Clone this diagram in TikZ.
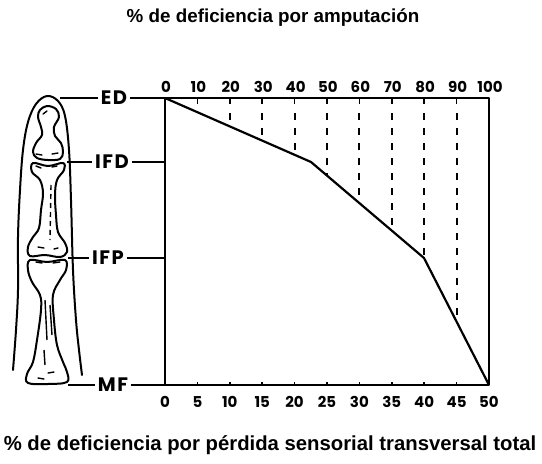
\documentclass[tikz,border=0pt]{standalone}
\usepackage{fontspec}
\setmainfont{Liberation Sans}
\newfontfamily\tickfont{Poppins}
\newfontfamily\lvlfont{Poppins}[LetterSpace=8]
\begin{document}
\begin{tikzpicture}[x=1pt,y=-1pt,
  ink/.style={line width=2pt,line join=round,line cap=round},
  thin/.style={line width=1.3pt},
  ticklbl/.style={font=\tickfont\bfseries\fontsize{15}{16}\selectfont,inner sep=0pt},
  lvllbl/.style={font=\lvlfont\bfseries\fontsize{19.5}{20}\selectfont,inner sep=2.5pt},
  ttl/.style={font=\bfseries\fontsize{18.8}{20}\selectfont,inner sep=0pt},
  vdash/.style={line width=2pt,dash pattern=on 6.5pt off 8.5pt}]
\useasboundingbox (0,0) rectangle (542,464);
% titles
\node[ttl] (t1) at (273,18) {\% de deficiencia por amputación};
\node[ttl,font=\bfseries\fontsize{20.3}{21}\selectfont] (t2) at (270,445) {\% de deficiencia por pérdida sensorial transversal total};
% box corners and levels
\coordinate (TL) at (165,98);
\coordinate (TR) at (489,98);
\coordinate (BL) at (165,385);
\coordinate (BR) at (489,385);
\coordinate (IFDb) at (165,162);
\coordinate (IFPb) at (165,258);
\coordinate (IFDc) at (311,162);
\coordinate (IFPc) at (424,258);
\draw[ink] (TL) -- (TR) -- (BR) -- (BL) -- cycle;
% curve
\draw[line width=2.2pt,line join=round] (TL) -- (IFDc) -- (IFPc) -- (BR);
% top ticks, labels, dashed verticals
\foreach \k/\yc in {1/104,2/127,3/141,4/155,5/176,6/203,7/231,8/258,9/321} {
  \pgfmathsetmacro\xx{165+32.4*\k}
  \draw[line width=1.6pt] (\xx,98) -- (\xx,103.5);
  \ifnum\k>1 \draw[vdash] (\xx,113) -- (\xx,\yc); \fi
}
\foreach \k in {0,...,10} {
  \pgfmathsetmacro\xx{165+32.4*\k}
  \pgfmathtruncatemacro\lab{10*\k}
  \node[ticklbl] (top\k) at (\xx+1,87) {\lab};
}
% bottom ticks and labels
\foreach \k in {0,...,10} {
  \pgfmathsetmacro\xx{165+32.4*\k}
  \pgfmathtruncatemacro\lab{5*\k}
  \draw[line width=1.6pt] (\xx,385) -- (\xx,382);
  \node[ticklbl] (bot\k) at (\xx,402) {\lab};
}
% level labels
\node[lvllbl] (ED) at (114,98) {ED};
\node[lvllbl] (IFD) at (112,162) {IFD};
\node[lvllbl] (IFP) at (108,258) {IFP};
\node[lvllbl] (MF) at (113,385) {MF};
\coordinate (edL) at (60,98);
\coordinate (ifdL) at (67,162);
\coordinate (ifpL) at (68,258);
\coordinate (mfL) at (68,385);
\draw[thin] (edL) -- (ED.west) (ED.east) -- (TL);
\draw[thin] (ifdL) -- (IFD.west) (IFD.east) -- (IFDb);
\draw[thin] (ifpL) -- (IFP.west) (IFP.east) -- (IFPb);
\draw[thin] (mfL) -- (MF.west) (MF.east) -- (BL);
% finger outline
\draw[ink] plot[smooth,tension=0.6] coordinates {(13,370) (16,330) (18,290) (18,237) (20,190) (23,150) (28,122) (36,104) (47,96) (58,101) (65,116) (69,150) (71,200) (73,270) (76,320) (79,350) (82,375)};
% distal phalanx
\draw[ink] plot[smooth cycle,tension=0.6] coordinates {(47,106) (56,109) (59,117) (54,127) (55,136) (61,143) (63,152) (60,159) (48,160) (37,158) (33,152) (36,143) (42,135) (41,127) (38,117) (40,110)};
% middle phalanx
\draw[ink] plot[smooth cycle,tension=0.6] coordinates {(33,163) (48,166) (63,163) (64,170) (57,180) (55,195) (56,215) (58,232) (65,243) (67,252) (60,257) (45,255) (30,256) (28,247) (33,237) (39,228) (41,210) (43,193) (40,180) (32,172)};
% proximal phalanx
\draw[ink] plot[smooth cycle,tension=0.6] coordinates {(30,260) (47,262) (65,260) (66,270) (60,280) (53,295) (54,320) (57,345) (63,362) (67,372) (67,382) (48,384) (28,383) (27,374) (33,362) (37,340) (41,310) (40,295) (32,282) (28,270)};
% interior strokes
\draw[line width=1.4pt,line cap=round] (43,114) -- (47,111) (36,154) -- (42,155) (52,154) -- (58,153)
  (36,166) -- (41,168) (52,167) -- (57,166) (38,247) -- (44,248) (54,249) -- (58,248)
  (36,262) -- (42,263) (53,263) -- (60,262) (48,373) -- (54,372) (38,378) -- (44,379);
\draw[line width=1.4pt,dash pattern=on 5pt off 4pt] (51,185) -- (50,240);
\draw[line width=1.4pt] (45,300) -- (47,340) (50,305) -- (52,335) (44,350) -- (45,365);
\end{tikzpicture}
\end{document}
